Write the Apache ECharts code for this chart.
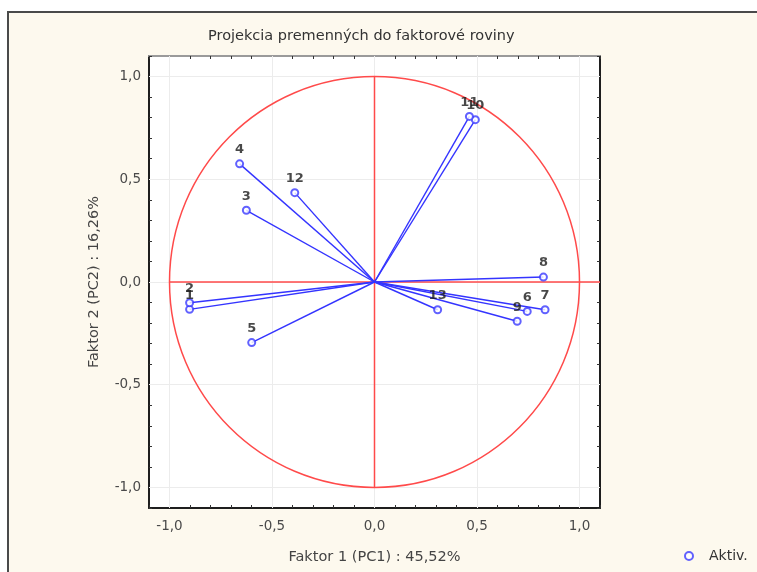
<!DOCTYPE html>
<html><head><meta charset="utf-8">
<script src="https://cdn.jsdelivr.net/npm/echarts@6/dist/echarts.min.js"></script>
<style>html,body{margin:0;padding:0;background:#fff}#c{width:757px;height:572px}</style>
</head><body><div id="c"></div>
<script>
// Variables (labels) and their loadings on PC1 / PC2
const varNames = ['1','2','3','4','5','6','7','8','9','10','11','12','13'];
const pc1 = [-0.902,-0.902,-0.625,-0.658,-0.599,0.745,0.832,0.824,0.696,0.492,0.463,-0.389,0.308];
const pc2 = [-0.133,-0.101,0.349,0.575,-0.295,-0.143,-0.135,0.024,-0.191,0.790,0.806,0.435,-0.135];
// Axis ticks
const tickValues = [-1.1,-1.0,-0.9,-0.8,-0.7,-0.6,-0.5,-0.4,-0.3,-0.2,-0.1,0,0.1,0.2,0.3,0.4,0.5,0.6,0.7,0.8,0.9,1.0,1.1];
const labelValues = [-1.0,-0.5,0,0.5,1.0];
const unitRadius = [1];
const titleText = 'Projekcia premenných do faktorové roviny';
const xName = 'Faktor 1 (PC1) : 45,52%';
const yName = 'Faktor 2 (PC2) : 16,26%';
const seriesName = 'Aktiv.';

const FONT = 'DejaVu Sans, Verdana, sans-serif';
const fmt = v => (Math.round(v*10)/10).toFixed(1).replace('.', ',');
const chart = echarts.init(document.getElementById('c'), null, {renderer:'canvas'});

const points = varNames.map((n,i)=>({name:n, value:[pc1[i], pc2[i]]}));
const rays = varNames.map((n,i)=>[{coord:[0,0]},{coord:[pc1[i],pc2[i]]}]);
const gridLines = labelValues.map(v=>({xAxis:v})).concat(labelValues.map(v=>({yAxis:v})));

function mkAxis(pos, isX, main) {
  const lineColor = pos === 'top' ? '#9a9a9a' : '#1e1e1e';
  const a = {
    type:'value', min:-1.1, max:1.1, position:pos,
    axisLine:{show:true, onZero:false, lineStyle:{color:lineColor, width:2}},
    axisTick:{show:true, inside:true, length:3, customValues:tickValues, lineStyle:{color:'#333', width:1}},
    axisLabel:{show:main, customValues:labelValues, formatter:fmt, color:'#4a4a4a', fontSize:13.5, fontFamily:FONT, margin:isX?11:8},
    splitLine:{show:false}
  };
  if (main) {
    a.name = isX ? xName : yName;
    a.nameLocation = 'middle';
    a.nameGap = isX ? 42 : 47;
    a.nameTextStyle = {color:'#444', fontSize:14.5, fontFamily:FONT};
  }
  return a;
}

chart.setOption({
  animation:false,
  backgroundColor:'#ffffff',
  graphic:{elements:[{type:'rect', z:-100, shape:{x:8, y:12, width:800, height:620},
    style:{fill:'#fdf9ee', stroke:'#4a4a4a', lineWidth:2}}]},
  title:{text:titleText, left:208, top:29, padding:0,
    textStyle:{fontSize:14.5, fontWeight:'normal', color:'#333', fontFamily:FONT}},
  grid:{left:149, top:56, width:451, height:452, show:true, backgroundColor:'#ffffff', borderWidth:0},
  xAxis:[mkAxis('bottom', true, true), mkAxis('top', true, false)],
  yAxis:[mkAxis('left', false, true), mkAxis('right', false, false)],
  legend:{data:[seriesName], left:684, top:549, padding:0, itemWidth:8, itemHeight:8,
    textStyle:{fontSize:14, color:'#333', fontFamily:FONT, padding:[0,0,0,11]}},
  series:[
    {type:'line', name:'grid', silent:true, data:[], z:1, markLine:{silent:true, z:1, symbol:['none','none'], label:{show:false},
      lineStyle:{color:'#ececec', width:1, type:'solid'}, data:gridLines}},
    {type:'custom', name:'circle', coordinateSystem:'cartesian2d', silent:true, clip:false, z:3,
      data:[[0,0,unitRadius[0]]],
      renderItem:(p,api)=>{
        const c = api.coord([api.value(0), api.value(1)]);
        const s = api.size([api.value(2), api.value(2)]);
        return {type:'ellipse', shape:{cx:c[0], cy:c[1], rx:s[0], ry:s[1]},
          style:{fill:'none', stroke:'#ff4a4a', lineWidth:1.5}};
      }},
    {type:'line', name:'h0', silent:true, z:3, symbol:'none', data:[[-1,0],[1.1,0]],
      lineStyle:{color:'#ff4a4a', width:1.5}},
    {type:'line', name:'v0', silent:true, z:3, symbol:'none', data:[[0,-1],[0,1]],
      lineStyle:{color:'#ff4a4a', width:1.5}},
    {type:'scatter', name:seriesName, z:5, data:points, symbol:'emptyCircle', symbolSize:7,
      itemStyle:{color:'#3a3aff', borderColor:'#3a3aff', borderWidth:1.5},
      label:{show:true, position:'top', distance:3, formatter:'{b}', color:'#1a1a1a', fontSize:13, fontWeight:'bold', fontFamily:FONT},
      markLine:{silent:true, symbol:['none','none'], label:{show:false}, z:4,
        lineStyle:{color:'#3434ff', width:1.4, type:'solid'}, data:rays}}
  ]
});
</script></body></html>
